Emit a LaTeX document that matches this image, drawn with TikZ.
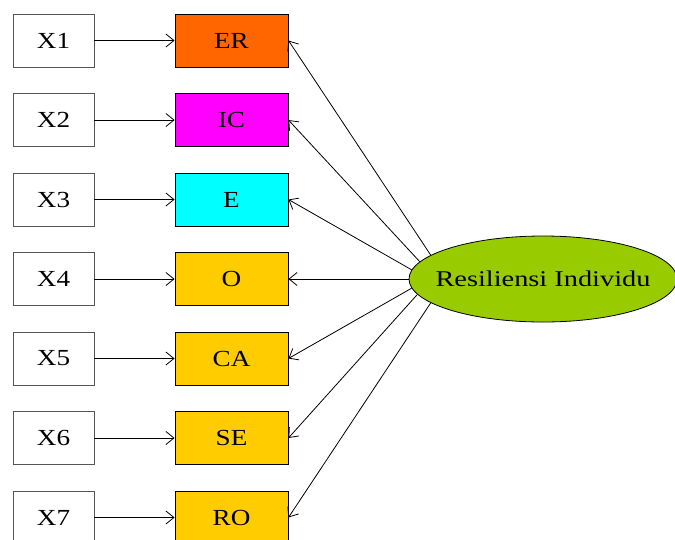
\documentclass[tikz,border=0pt]{standalone}
\usepackage{fontspec}
\setmainfont{Liberation Serif}[FakeStretch=1.18]
\newfontfamily\ellfont{Liberation Serif}[FakeStretch=1.26]
\usetikzlibrary{shapes.geometric,arrows.meta}
\definecolor{cER}{HTML}{FF6600}
\definecolor{cIC}{HTML}{FF00FF}
\definecolor{cE}{HTML}{00FFFF}
\definecolor{cY}{HTML}{FFCC00}
\definecolor{cEll}{HTML}{99CC00}
\definecolor{xborder}{HTML}{555555}
\tikzset{
  xbox/.style={draw=xborder, line width=0.9pt, fill=white, minimum width=81pt, minimum height=53pt, inner sep=0pt, font=\fontsize{23}{25}\selectfont},
  fbox/.style={draw=black, line width=0.9pt, minimum width=113pt, minimum height=53pt, inner sep=0pt, font=\fontsize{23}{25}\selectfont},
  conn/.style={line width=0.8pt, -{Straight Barb[length=8pt,width=13pt,line width=0.8pt]}},
}
\begin{document}
\begin{tikzpicture}[x=1pt,y=-1pt]
\useasboundingbox (0,0) rectangle (675,539);
\node[ellipse, draw=black, line width=0.8pt, fill=cEll, minimum width=268pt, minimum height=86pt, inner sep=0pt] (ell) at (543,279) {\makebox[0pt]{\ellfont\fontsize{22.5}{25}\selectfont Resiliensi Individu}};
\foreach \i/\t/\c/\a in {1/ER/cER/168, 2/IC/cIC/172.6, 3/E/cE/176, 4/O/cY/180, 5/CA/cY/184, 6/SE/cY/187.4, 7/RO/cY/192} {
  \pgfmathsetmacro{\yy}{40.5+79.5*(\i-1)}
  \node[xbox] (x\i) at (53.5,\yy) {X\i};
  \node[fbox, fill=\c] (f\i) at (231.5,\yy) {\t};
  \draw[conn] (x\i.east) -- (f\i.west);
  \draw[conn] (ell.\a) -- (f\i.east);
}
\end{tikzpicture}
\end{document}
